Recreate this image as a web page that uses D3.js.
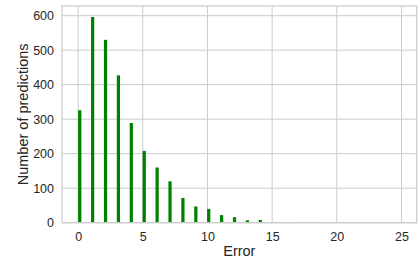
<!DOCTYPE html>
<html>
<head>
<meta charset="utf-8">
<script src="https://cdn.jsdelivr.net/npm/d3@7"></script>
<style>
  body { margin: 0; background: #fff; }
  svg { display: block; }
  .tick text { font-family: "Liberation Sans", Arial, sans-serif; fill: #262626; }
</style>
</head>
<body>
<svg width="420" height="259"></svg>
<script>
// error value -> count of predictions
var errors = [0, 1, 2, 3, 4, 5, 6, 7, 8, 9, 10, 11, 12, 13, 14, 15, 17, 18];
var counts = [326, 596, 530, 427, 289, 208, 160, 120, 72, 47, 40, 22, 16, 7, 8, 2, 1, 1];
var xTicks = [0, 5, 10, 15, 20, 25];
var yTicks = [0, 100, 200, 300, 400, 500, 600];

var svg = d3.select("svg"),
    margin = {top: 6, right: 3.3, bottom: 36.3, left: 62},
    width = +svg.attr("width") - margin.left - margin.right,
    height = +svg.attr("height") - margin.top - margin.bottom;

// histogram had 100 bins over 0..24.93
var maxErr = 24.93, nBins = 100, bw = maxErr / nBins;

var x = d3.scaleLinear()
    .domain([-0.05 * maxErr, maxErr * 1.05])
    .range([0, width]);

var y = d3.scaleLinear()
    .domain([0, 628])
    .range([height, 0]);

var g = svg.append("g")
    .attr("transform", "translate(" + margin.left + "," + margin.top + ")");

// grid
g.append("g")
    .selectAll("line")
    .data(yTicks)
    .enter().append("line")
    .attr("x1", 0).attr("x2", width)
    .attr("y1", function(d) { return y(d); })
    .attr("y2", function(d) { return y(d); })
    .attr("stroke", "#cccccc")
    .attr("stroke-width", 1);

g.append("g")
    .selectAll("line")
    .data(xTicks)
    .enter().append("line")
    .attr("y1", 0).attr("y2", height)
    .attr("x1", function(d) { return x(d); })
    .attr("x2", function(d) { return x(d); })
    .attr("stroke", "#cccccc")
    .attr("stroke-width", 1);

// bars
var data = errors.map(function(e, i) {
  var start = Math.floor(e / bw + 1e-9) * bw;
  return {start: start, count: counts[i]};
});

g.selectAll(".bar")
    .data(data)
    .enter().append("rect")
    .attr("class", "bar")
    .attr("x", function(d) { return x(d.start); })
    .attr("width", function(d) { return x(d.start + bw) - x(d.start); })
    .attr("y", function(d) { return y(d.count); })
    .attr("height", function(d) { return y(0) - y(d.count); })
    .style("fill", "#008000");

// frame
g.append("rect")
    .attr("x", 0).attr("y", 0)
    .attr("width", width).attr("height", height)
    .attr("fill", "none")
    .attr("stroke", "#cccccc")
    .attr("stroke-width", 1.25);

// axes
var xAxis = d3.axisBottom(x).tickValues(xTicks).tickSize(0).tickPadding(9);
var yAxis = d3.axisLeft(y).tickValues(yTicks).tickSize(0).tickPadding(8);

g.append("g")
    .attr("transform", "translate(0," + height + ")")
    .call(xAxis)
    .call(function(s) { s.select(".domain").remove(); })
    .selectAll("text").style("font-size", "12.5px");

g.append("g")
    .call(yAxis)
    .call(function(s) { s.select(".domain").remove(); })
    .selectAll("text").style("font-size", "12.5px");

svg.append("text")
    .attr("x", margin.left + width / 2)
    .attr("y", 255.5)
    .attr("text-anchor", "middle")
    .style("font-family", "Liberation Sans, Arial, sans-serif")
    .style("font-size", "14.5px")
    .style("fill", "#262626")
    .text("Error");

svg.append("text")
    .attr("transform", "translate(28," + (margin.top + height / 2) + ") rotate(-90)")
    .attr("text-anchor", "middle")
    .style("font-family", "Liberation Sans, Arial, sans-serif")
    .style("font-size", "14.5px")
    .style("fill", "#262626")
    .text("Number of predictions");
</script>
</body>
</html>
